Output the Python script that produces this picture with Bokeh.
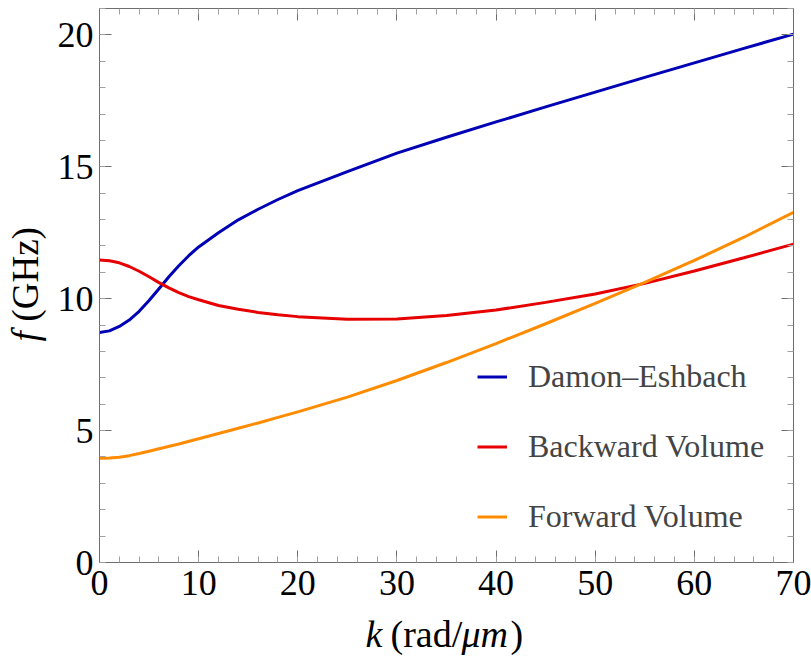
import math
from bokeh.plotting import figure
from bokeh.models import (Range1d, LinearAxis, SingleIntervalTicker, Legend,
                          LegendItem, CustomJSTickFormatter)
from bokeh.layouts import row, column
from bokeh.core.properties import value
from bokeh.embed import file_html
from bokeh.resources import INLINE

# ---- data ----
k_de = [0, 1, 2, 3, 4, 5, 6, 7, 8, 9, 10, 12, 14, 16, 18, 20, 25, 30, 35, 40, 45, 50, 55, 60, 65, 70]
f_de = [8.72, 8.78, 8.95, 9.19, 9.52, 9.93, 10.38, 10.83, 11.25, 11.63, 11.96, 12.5, 12.99, 13.39,
        13.76, 14.1, 14.82, 15.52, 16.12, 16.7, 17.27, 17.83, 18.39, 18.94, 19.49, 20.03]

k_bv = [0, 1, 2, 3, 4, 5, 6, 7, 8, 9, 10, 12, 14, 16, 18, 20, 25, 30, 35, 40, 45, 50, 55, 60, 65, 70]
f_bv = [11.47, 11.44, 11.36, 11.22, 11.04, 10.83, 10.61, 10.41, 10.23, 10.08, 9.96, 9.74, 9.6, 9.48,
        9.39, 9.32, 9.22, 9.23, 9.36, 9.57, 9.86, 10.18, 10.58, 11.05, 11.55, 12.07]

k_fv = [0, 1, 2, 3, 4, 5, 6, 8, 10, 12, 14, 16, 18, 20, 25, 30, 35, 40, 45, 50, 55, 60, 65, 70]
f_fv = [3.95, 3.96, 3.99, 4.05, 4.13, 4.22, 4.31, 4.49, 4.69, 4.89, 5.09, 5.29, 5.5, 5.71, 6.27, 6.9,
        7.58, 8.3, 9.05, 9.82, 10.62, 11.45, 12.33, 13.27]

series_names = ["Damon\u2013Eshbach", "Backward Volume", "Forward Volume"]
series_colors = ["#0000B4", "#E60000", "#FF8C00"]

x_ticks_interval = 10
y_ticks_interval = 5

FONT = "Liberation Serif"

MAIN_H = 614  # 8 top + 554 frame + 52 bottom

# ---------------- main plot ----------------
p = figure(frame_width=694, frame_height=554,
           min_border_left=49, min_border_right=18, min_border_top=8, min_border_bottom=52,
           x_range=Range1d(0, 70), y_range=Range1d(0, 21),
           x_axis_type=None, y_axis_type=None,
           output_backend="svg", toolbar_location=None)
p.outline_line_color = None
p.background_fill_color = "white"
p.border_fill_color = "white"


def style_axis(ax, interval, show_labels):
    ax.ticker = SingleIntervalTicker(interval=interval, num_minor_ticks=5)
    ax.axis_line_color = "#6e6e6e"
    ax.axis_line_width = 1
    ax.major_tick_line_color = "#6e6e6e"
    ax.minor_tick_line_color = "#a0a0a0"
    ax.major_tick_in = 12
    ax.major_tick_out = 0
    ax.minor_tick_in = 6
    ax.minor_tick_out = 0
    if show_labels:
        ax.major_label_text_font = FONT
        ax.major_label_text_font_size = "36px"
        ax.major_label_text_color = "black"
    else:
        ax.formatter = CustomJSTickFormatter(code="return ''")
        ax.major_label_text_font_size = "1px"
        ax.major_label_standoff = 0


xb = LinearAxis(); style_axis(xb, x_ticks_interval, True); xb.major_label_standoff = 8
yl = LinearAxis(); style_axis(yl, y_ticks_interval, True); yl.major_label_standoff = 6
xt = LinearAxis(); style_axis(xt, x_ticks_interval, False)
yr = LinearAxis(); style_axis(yr, y_ticks_interval, False)
p.add_layout(xb, "below")
p.add_layout(yl, "left")
p.add_layout(xt, "above")
p.add_layout(yr, "right")

r_de = p.line(k_de, f_de, line_color=series_colors[0], line_width=3)
r_bv = p.line(k_bv, f_bv, line_color=series_colors[1], line_width=3)
r_fv = p.line(k_fv, f_fv, line_color=series_colors[2], line_width=3)

legend = Legend(items=[LegendItem(label=series_names[0], renderers=[r_de]),
                       LegendItem(label=series_names[1], renderers=[r_bv]),
                       LegendItem(label=series_names[2], renderers=[r_fv])],
                location=(378, 27.5), padding=0, margin=0, spacing=33,
                glyph_width=30, glyph_height=37, label_height=37, label_standoff=21,
                label_text_font=FONT, label_text_font_size="32px",
                border_line_color=None, background_fill_alpha=0)
p.add_layout(legend)


# ---------------- axis titles (mixed italic / upright parts) ----------------
def blank(w, h):
    f = figure(width=w, height=h, x_range=Range1d(0, w), y_range=Range1d(0, h),
               min_border=0, x_axis_type=None, y_axis_type=None,
               output_backend="svg", toolbar_location=None)
    f.outline_line_color = None
    f.background_fill_color = "white"
    f.border_fill_color = "white"
    return f


def put(fig, x, y, text, italic=False, angle=0.0, size="36px"):
    fig.text(x=[x], y=[y], text=[text], angle=angle,
             text_font=value(FONT), text_font_size=value(size),
             text_font_style=value("italic" if italic else "normal"),
             text_baseline=value("middle"), text_align=value("left"),
             text_color="black")


yfig = blank(50, MAIN_H)
put(yfig, 25, MAIN_H - 369, "f", italic=True, angle=math.pi / 2, size="37px")
put(yfig, 25, MAIN_H - 347, "(GHz)", angle=math.pi / 2, size="37px")

XT_H = 659 - MAIN_H
xfig = blank(811, XT_H)
ymid = 659 - 633
put(xfig, 365, ymid, "k", italic=True, size="38px")
put(xfig, 390, ymid, "(rad/", size="38px")
put(xfig, 461, ymid, "\u03bcm", italic=True, size="38px")
put(xfig, 510, ymid, ")", size="38px")

layout = column(row(yfig, p), xfig)
open("out.html", "w").write(file_html(layout, INLINE))
